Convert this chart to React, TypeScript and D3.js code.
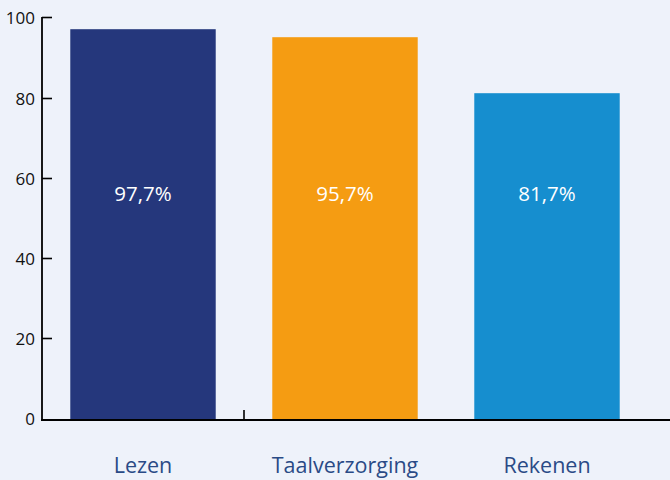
import React from "react";
import * as d3 from "d3";

const categories = ["Lezen", "Taalverzorging", "Rekenen"];
const values = [97.7, 95.7, 81.7];
const valueLabels = ["97,7%", "95,7%", "81,7%"];
const barColors = ["#25377c", "#f59c12", "#168ecf"];
const yTicks = [0, 20, 40, 60, 80, 100];

const W = 670;
const H = 480;

export default function App() {
  const x = d3.scaleBand<string>().domain(categories).range([42, 648]).paddingInner(0.28).paddingOuter(0.14);
  const y = d3.scaleLinear().domain([0, 100]).range([420, 20]);
  const font = "'Open Sans', 'Noto Sans', sans-serif";
  const midTick = ((x(categories[0]) as number) + x.bandwidth() + (x(categories[1]) as number)) / 2;
  return (
    <svg width={W} height={H} style={{ position: "absolute", left: 0, top: 0, display: "block" }}>
      <rect x={0} y={0} width={W} height={H} fill="#eef2fa" />
      {categories.map((c, i) => (
        <rect key={c} x={x(c)} y={y(values[i])} width={x.bandwidth()} height={y(0) - y(values[i])} fill={barColors[i]} />
      ))}
      {categories.map((c, i) => (
        <text key={c + "v"} x={(x(c) as number) + x.bandwidth() / 2} y={201} textAnchor="middle" fill="#ffffff" fontFamily={font} fontSize={20.5}>
          {valueLabels[i]}
        </text>
      ))}
      {/* y axis */}
      <line x1={42} x2={42} y1={17} y2={y(0)} stroke="#000" strokeWidth={1.8} />
      {yTicks.map((t) => (
        <g key={t}>
          {t > 0 && <line x1={42} x2={52} y1={t === 100 ? 17.5 : y(t) - 1.5} y2={t === 100 ? 17.5 : y(t) - 1.5} stroke="#000" strokeWidth={1.6} />}
          <text x={35} y={(t === 100 ? 17.5 : y(t) - 1.5) + 6} textAnchor="end" fill="#111" fontFamily={font} fontSize={17}>
            {t}
          </text>
        </g>
      ))}
      {/* x axis */}
      <line x1={41} x2={W} y1={y(0)} y2={y(0)} stroke="#000" strokeWidth={2} />
      <line x1={midTick} x2={midTick} y1={410} y2={420} stroke="#000" strokeWidth={1.6} />
      {categories.map((c) => (
        <text key={c + "l"} x={(x(c) as number) + x.bandwidth() / 2} y={473} textAnchor="middle" fill="#2a4a86" fontFamily={font} fontSize={21.5} fontWeight={500}>
          {c}
        </text>
      ))}
    </svg>
  );
}
